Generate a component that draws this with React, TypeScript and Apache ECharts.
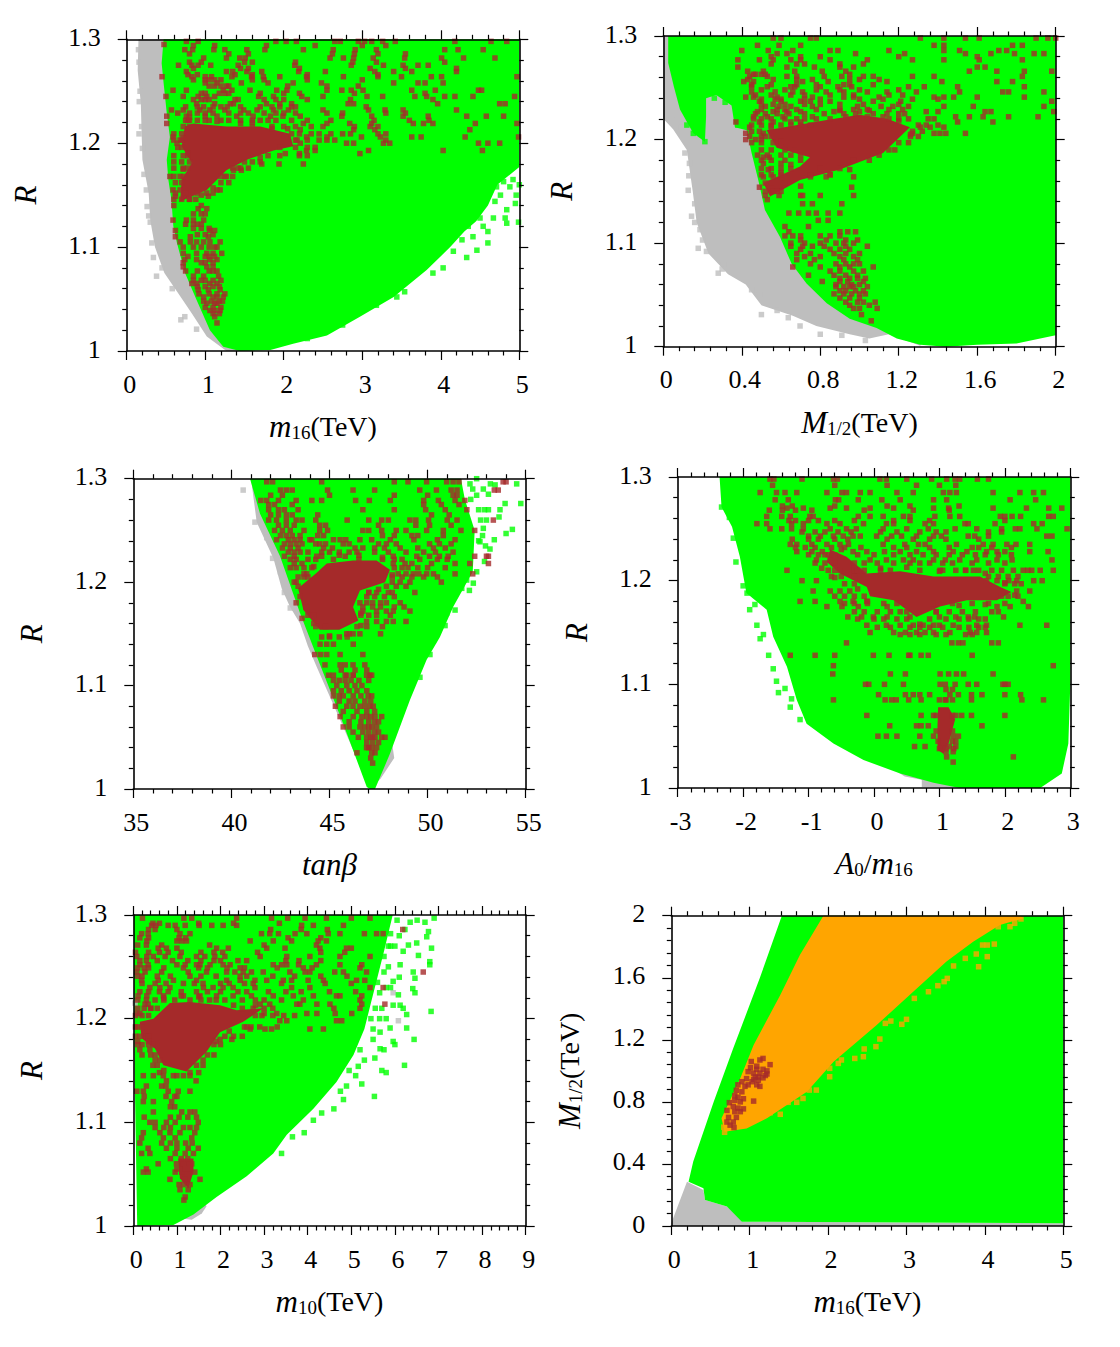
import React, { useEffect, useRef } from "react";
import * as echarts from "echarts";

type Pt = [number, number];
type Row = [number, number[]];

const GREY = "#bebebe";
const GREEN = "#00ff00";
const ORANGE = "#ffa500";
const BROWN = "#a52a2a";
const SERIF = "'Liberation Serif', serif";

// panel 1: m16 vs R
const p1Grey: Pt[] = [[0.15, 1.3], [0.14, 1.27], [0.18, 1.238], [0.19, 1.21], [0.2, 1.184], [0.28, 1.152], [0.3, 1.126], [0.36, 1.1], [0.48, 1.075], [0.66, 1.055], [0.83, 1.036], [1.02, 1.014], [1.27, 1.0], [1.6, 1.0], [1.0, 1.2], [0.7, 1.3]];
const p1Green: Pt[] = [[0.47, 1.3], [0.445, 1.277], [0.47, 1.258], [0.51, 1.229], [0.55, 1.206], [0.51, 1.184], [0.53, 1.165], [0.57, 1.145], [0.594, 1.12], [0.64, 1.104], [0.743, 1.075], [0.89, 1.049], [1.06, 1.02], [1.23, 1.004], [1.44, 1.0], [1.83, 1.001], [2.12, 1.007], [2.55, 1.015], [2.97, 1.033], [3.4, 1.052], [3.82, 1.078], [4.12, 1.1], [4.3, 1.115], [4.45, 1.125], [4.6, 1.14], [4.72, 1.16], [5, 1.177], [5, 1.3]];
const p1Core: Pt[] = [[0.85, 1.219], [1.27, 1.216], [1.7, 1.216], [2.08, 1.209], [2.12, 1.197], [1.87, 1.193], [1.53, 1.184], [1.27, 1.174], [1.02, 1.155], [0.68, 1.144], [0.7, 1.165], [0.83, 1.181], [0.7, 1.197], [0.74, 1.216]];
const p1GreyPts: Pt[] = [[0.157, 1.278], [0.157, 1.209], [0.19, 1.216], [0.26, 1.139], [0.3, 1.124], [0.32, 1.104], [0.38, 1.072], [0.69, 1.03], [0.74, 1.033], [0.89, 1.021], [0.15, 1.29], [0.17, 1.25], [0.16, 1.24], [0.2, 1.195], [0.22, 1.17], [0.25, 1.155], [0.28, 1.13], [0.34, 1.09], [0.45, 1.08], [0.58, 1.06]];
const p1GreenPts: Pt[] = [[4.33, 1.09], [4.46, 1.097], [4.6, 1.104], [4.16, 1.096], [4.03, 1.08], [3.9, 1.075], [3.54, 1.057], [3.44, 1.052], [4.84, 1.123], [4.99, 1.124], [4.67, 1.128], [4.82, 1.128], [4.6, 1.115], [4.95, 1.142], [4.69, 1.144], [4.84, 1.136], [4.71, 1.158], [4.88, 1.158], [4.54, 1.12], [4.41, 1.11], [4.27, 1.107], [4.18, 1.113], [4.5, 1.128], [4.35, 1.12], [4.28, 1.135], [4.76, 1.15], [4.22, 1.125], [2.3, 1.012], [2.75, 1.025], [3.18, 1.044], [4.92, 1.165], [4.8, 1.163], [5, 1.16], [4.96, 1.15]];
const p1Fringe: Pt[] = [[0.78, 1.222], [1.0, 1.222], [1.15, 1.221], [1.45, 1.219], [1.6, 1.22], [1.85, 1.214], [2.05, 1.214], [2.17, 1.203], [2.02, 1.19], [1.7, 1.186], [1.42, 1.176], [1.2, 1.168], [1.1, 1.157], [0.95, 1.15], [0.8, 1.146], [0.68, 1.155], [0.72, 1.175], [0.78, 1.19], [0.72, 1.205], [0.8, 1.225]];
const p1Brown: Row[] = [
  [1.298, [0.76, 0.91, 1.9, 2.03, 2.16, 2.65, 2.72, 2.95, 3.03, 3.12, 3.26, 3.42, 4.18, 4.64, 4.84]],
  [1.295, [0.475]],
  [1.29, [0.74, 0.84, 1.11, 1.25, 1.53, 1.76, 2.25, 2.63, 2.91, 3.18, 4.22, 4.54, 4.05]],
  [1.282, [0.98, 1.27, 1.44, 1.51, 2.59, 2.76, 2.89, 3.14, 3.54, 4.01, 4.29, 4.69]],
  [1.275, [0.66, 0.83, 0.91, 1.07, 1.42, 2.14, 2.86, 3.27, 3.52, 3.71, 3.84]],
  [1.269, [0.76, 1.27, 1.35, 1.53, 1.72, 2.19, 2.53, 3.16, 3.4, 3.63, 4.2]],
  [1.264, [0.45, 0.83, 1.0, 1.08, 1.34, 1.59, 1.74, 1.95, 2.29, 2.76, 3.2, 3.5, 3.88, 4.01, 4.97]],
  [1.258, [1.0, 1.15, 1.46, 1.8, 2.12, 2.48, 3.4, 3.71, 3.8, 4.03]],
  [1.251, [0.59, 0.76, 1.23, 1.34, 1.57, 1.91, 2.04, 2.55, 2.74, 2.86, 3.01, 3.63, 3.93, 4.48, 4.52]],
  [1.245, [0.5, 0.72, 0.91, 1.02, 1.12, 1.68, 1.87, 2.23, 2.5, 3.06, 3.26, 3.67, 3.82, 4.05, 4.18, 4.41, 4.94]],
  [1.238, [0.89, 1.12, 1.32, 1.36, 1.78, 1.95, 2.1, 2.82, 2.89, 3.96, 4.75, 4.82]],
  [1.232, [0.57, 0.72, 0.93, 1.06, 1.25, 1.49, 1.66, 1.87, 2.06, 2.5, 3.08, 3.29, 4.2, 3.52]],
  [1.226, [0.51, 0.76, 1.0, 1.15, 1.4, 1.61, 1.83, 1.99, 2.21, 2.74, 3.12, 3.52, 3.84, 4.33, 4.58, 4.8]],
  [1.219, [0.51, 2.25, 2.55, 2.84, 3.12, 3.65, 3.78, 3.9, 4.44, 4.97]],
  [1.213, [2.89, 3.16, 4.37, 2.21]],
  [1.206, [0.59, 2.29, 2.55, 2.99, 3.23, 3.63, 3.75, 4.31, 4.99]],
  [1.2, [0.64, 2.21, 2.8, 2.89, 3.27, 3.35, 4.48, 4.6, 4.75]],
  [1.193, [3.08, 4.03, 2.29, 2.4, 4.53]],
  [1.19, [2.97, 2.2]],
  [1.18, [2.25, 1.94, 1.72]],
  [1.174, [1.46, 1.36]],
  [1.168, [0.55, 0.68, 1.27]],
  [1.155, [0.59, 1.19, 1.15]],
  [1.149, [1.04, 0.62]],
  [1.137, [0.91, 1.02]],
  [1.126, [0.59, 0.76, 0.85, 0.98]],
  [1.116, [0.62, 1.06, 1.12]],
  [1.11, [0.62, 0.81, 1.04]],
  [1.105, [0.68, 0.81, 0.89, 0.98, 1.06, 1.19]],
  [1.094, [1.02, 1.1, 1.21, 0.72, 0.89]],
  [1.088, [0.74, 0.89, 1.06, 1.15]],
  [1.081, [0.72, 1.02, 1.1]],
  [1.072, [0.85, 0.98, 1.17]],
  [1.065, [0.83, 0.89, 1.06, 1.15]],
  [1.059, [0.91, 1.04, 1.19]],
  [1.052, [0.98, 1.1, 1.23, 1.15]],
  [1.046, [1.02, 1.15, 1.12]],
  [1.039, [1.06, 1.19, 1.12]],
  [1.033, [1.12]],
  [1.027, [1.15]],
];
const p1BrownB: Row[] = [
  [1.294, [0.85, 1.12, 1.78, 2.4, 3.0, 3.3]],
  [1.286, [0.8, 1.3, 1.55, 2.62, 2.9, 3.2, 3.55]],
  [1.278, [0.8, 0.95, 1.5, 1.6, 2.15, 2.88, 3.18, 4.05]],
  [1.272, [0.85, 1.45, 1.55, 2.2, 3.1, 3.55, 4.2]],
  [1.266, [0.78, 0.9, 1.38, 1.6, 2.3, 3.2]],
  [1.261, [0.85, 1.0, 1.05, 1.12, 1.2, 1.6, 1.75, 2.3, 3.0]],
  [1.255, [1.05, 1.12, 1.2, 1.27, 1.3, 2.05, 2.55, 2.95]],
  [1.248, [0.95, 1.0, 1.18, 1.25, 1.3, 1.7, 2.0, 2.2, 2.9, 3.8]],
  [1.242, [0.85, 0.95, 1.0, 1.05, 1.38, 1.42, 1.75, 1.9, 2.0, 2.3, 2.85, 3.9]],
  [1.235, [0.75, 0.9, 0.98, 1.1, 1.2, 1.28, 1.45, 1.7, 1.85, 1.95, 2.1, 2.15, 3.05]],
  [1.229, [0.65, 0.8, 0.9, 1.0, 1.1, 1.3, 1.45, 1.55, 1.75, 1.9, 2.0, 2.15, 2.55, 2.75, 3.3, 3.55]],
  [1.222, [0.75, 0.8, 0.9, 1.05, 1.2, 1.3, 1.45, 1.6, 1.7, 1.8, 1.9, 2.1, 2.3, 2.6, 3.15, 3.6, 3.85]],
  [1.216, [0.72, 0.8, 1.6, 1.85, 2.0, 2.15, 2.35, 2.5, 2.9, 3.1, 3.2]],
  [1.209, [0.6, 0.7, 2.1, 2.2, 2.35, 2.45, 2.6, 2.75, 2.85, 3.2, 3.3]],
  [1.203, [0.6, 0.68, 0.7, 2.15, 2.3, 2.45, 2.55, 2.65, 3.3]],
  [1.196, [0.65, 0.7, 2.15, 2.3, 2.4, 1.95]],
  [1.188, [0.6, 0.72, 0.78, 1.8, 1.95, 2.2, 2.3]],
  [1.182, [0.6, 0.7, 0.8, 1.5, 1.6, 1.7]],
  [1.176, [0.6, 0.72, 0.78, 1.35, 1.45, 1.55]],
  [1.168, [0.6, 0.72, 1.25, 1.35]],
  [1.162, [0.62, 0.7, 1.2, 1.3]],
  [1.152, [0.62, 0.75, 0.9, 1.02, 1.1]],
  [1.146, [0.6, 0.7, 0.8, 0.88]],
  [1.14, [0.95, 0.6]],
  [1.132, [0.85, 0.95, 1.0]],
  [1.122, [0.75, 0.85, 0.9, 0.95]],
  [1.118, [0.85, 0.95, 1.05]],
  [1.112, [1.1, 0.9, 1.0]],
  [1.1, [0.72, 0.85, 0.95, 1.05, 1.12, 1.15]],
  [1.091, [1.0, 1.05, 1.12, 0.78]],
  [1.085, [0.95, 1.0, 1.1, 0.72]],
  [1.077, [0.75, 0.9, 1.05, 1.1, 1.15]],
  [1.068, [0.85, 0.95, 1.0, 1.1, 1.2]],
  [1.062, [0.9, 1.0, 1.1, 1.18]],
  [1.055, [0.92, 1.05, 1.15, 1.25]],
  [1.048, [0.98, 1.08, 1.18, 1.22]],
  [1.042, [1.0, 1.1, 1.2]],
  [1.036, [1.1, 1.18]],
];

// panel 2: M1/2 vs R
const p2Grey: Pt[] = [[0, 1.3], [0, 1.22], [0.05, 1.21], [0.12, 1.19], [0.15, 1.15], [0.17, 1.12], [0.23, 1.09], [0.33, 1.07], [0.42, 1.06], [0.5, 1.04], [0.66, 1.03], [0.78, 1.02], [0.95, 1.012], [1.05, 1.008], [1.15, 1.012], [1.31, 1.001], [1.5, 1.1], [0.6, 1.3]];
const p2Green: Pt[] = [[0.025, 1.3], [0.025, 1.274], [0.054, 1.251], [0.085, 1.229], [0.153, 1.206], [0.212, 1.198], [0.218, 1.222], [0.218, 1.24], [0.27, 1.243], [0.348, 1.233], [0.365, 1.212], [0.425, 1.209], [0.45, 1.187], [0.484, 1.161], [0.518, 1.132], [0.595, 1.106], [0.654, 1.08], [0.73, 1.061], [0.833, 1.042], [0.95, 1.027], [1.087, 1.018], [1.19, 1.008], [1.31, 1.002], [1.44, 1.0], [1.6, 1.002], [1.8, 1.003], [2, 1.011], [2, 1.3]];
const p2Core: Pt[] = [[0.527, 1.209], [0.833, 1.219], [1.0, 1.224], [1.14, 1.22], [1.257, 1.212], [1.12, 1.187], [0.9, 1.171], [0.697, 1.161], [0.544, 1.145], [0.51, 1.158], [0.697, 1.174], [0.747, 1.183], [0.578, 1.192]];
const p2GreyPts: Pt[] = [[0.11, 1.187], [0.133, 1.177], [0.127, 1.151], [0.16, 1.138], [0.144, 1.126], [0.187, 1.113], [0.2, 1.103], [0.178, 1.095], [0.22, 1.092], [0.306, 1.08], [0.28, 1.071], [0.38, 1.071], [0.49, 1.05], [0.5, 1.031], [0.637, 1.028], [0.697, 1.02], [0.91, 1.011], [1.03, 1.006], [0.042, 1.224], [0.093, 1.212], [0.13, 1.165], [0.16, 1.12], [0.3, 1.075], [0.45, 1.055], [0.58, 1.035], [0.8, 1.012]];
const p2GreenPts: Pt[] = [[0.12, 1.214], [0.153, 1.206], [0.212, 1.198], [0.26, 1.24], [0.315, 1.236], [0.38, 1.214], [0.13, 1.222], [0.165, 1.215]];
const p2Fringe: Pt[] = [[0.55, 1.213], [0.7, 1.217], [0.9, 1.228], [1.05, 1.228], [1.2, 1.218], [1.26, 1.205], [1.18, 1.19], [1.05, 1.18], [0.85, 1.166], [0.7, 1.155], [0.58, 1.15], [0.53, 1.142], [0.6, 1.168], [0.65, 1.176], [0.7, 1.185], [0.6, 1.198], [0.5, 1.2], [0.55, 1.208]];
const p2Brown: Row[] = [
  [1.298, [0.56, 0.6, 0.75, 0.78, 1.31, 1.43, 1.54, 1.61, 1.9, 1.96, 2.0]],
  [1.291, [0.48, 0.59, 0.7, 1.38, 1.78, 1.83, 1.43]],
  [1.286, [0.4, 0.535, 0.66, 0.85, 0.89, 1.15, 1.51, 1.71, 1.75, 1.43]],
  [1.283, [0.58, 0.63, 0.98, 1.23, 1.54, 1.79, 1.89, 1.94, 1.67]],
  [1.277, [0.38, 0.49, 0.56, 0.65, 0.7, 0.85, 1.04, 1.27, 1.43, 1.61, 1.83]],
  [1.27, [0.38, 0.63, 0.77, 0.9, 0.97, 1.6, 1.64]],
  [1.266, [0.43, 0.51, 0.67, 0.81, 0.93, 1.56, 1.7, 1.84, 1.98]],
  [1.261, [0.44, 0.53, 0.63, 0.68, 0.82, 0.91, 1.02, 1.07, 1.27, 1.38, 1.83]],
  [1.256, [0.41, 0.46, 0.71, 0.84, 1.14, 1.42, 1.78, 1.7]],
  [1.251, [0.45, 0.53, 0.65, 0.67, 0.8, 0.89, 0.96, 1.25, 1.33, 1.5, 1.84]],
  [1.246, [0.45, 0.57, 0.66, 0.71, 0.83, 0.92, 1.04, 1.14, 1.29, 1.51, 1.73, 1.76, 1.94]],
  [1.241, [0.42, 0.46, 0.58, 0.76, 0.92, 0.97, 1.1, 1.38, 1.43, 1.48, 1.6, 1.84]],
  [1.237, [0.49, 0.6, 0.7, 0.75, 0.85, 1.07, 1.21, 1.98]],
  [1.232, [0.52, 0.59, 0.65, 0.76, 0.99, 1.11, 1.17, 1.25, 1.43, 1.58, 1.94]],
  [1.227, [0.48, 0.56, 0.63, 0.7, 0.87, 1.0, 1.34, 1.64, 1.67, 1.4, 1.99]],
  [1.222, [0.46, 0.53, 0.61, 0.76, 0.93, 1.04, 1.12, 1.49, 1.56, 1.76, 1.63, 1.91]],
  [1.217, [0.37, 0.49, 0.56, 0.65, 1.68, 1.5]],
  [1.212, [0.44, 1.31, 1.36, 1.43]],
  [1.206, [0.42, 0.51, 1.38, 1.41, 1.44, 1.54, 1.27]],
  [1.2, [0.42, 0.47]],
  [1.183, [0.51, 0.54]],
  [1.177, [0.51, 0.6]],
  [1.171, [0.535, 0.95]],
  [1.164, [0.51, 0.56, 0.83, 0.75, 0.97]],
  [1.154, [0.49, 0.96]],
  [1.146, [0.52, 0.59, 0.7, 0.71, 0.8, 0.97]],
  [1.138, [0.71, 0.76, 0.91]],
  [1.129, [0.64, 0.69, 0.74, 0.78, 0.84, 0.9]],
  [1.122, [0.79, 0.84]],
  [1.116, [0.62, 0.74]],
  [1.111, [0.64, 0.9, 0.94, 0.98]],
  [1.103, [0.7, 0.83, 0.93, 0.99]],
  [1.097, [0.65, 0.71, 0.76, 0.82, 0.93, 1.04]],
  [1.09, [0.68, 0.75, 0.87, 0.93, 1.0]],
  [1.084, [0.68, 0.77, 0.92, 0.99]],
  [1.077, [0.66, 0.8, 0.9, 0.95, 1.07]],
  [1.069, [0.74, 0.87, 0.93, 0.99]],
  [1.063, [0.81, 0.9, 0.94, 1.02]],
  [1.058, [0.88, 0.97, 1.04, 0.92, 0.95]],
  [1.051, [0.87, 0.92, 1.0, 0.96, 1.03]],
  [1.043, [0.93, 0.99, 1.02, 1.08]],
  [1.037, [0.97, 1.09, 1.0]],
  [1.031, [1.01]],
  [1.025, [1.06]],
];
const p2BrownB: Row[] = [
  [1.28, [0.55, 0.7, 0.8, 1.2, 1.6]],
  [1.273, [0.55, 0.68, 0.72, 0.9, 1.02]],
  [1.263, [0.46, 0.47, 0.5, 0.52, 0.95]],
  [1.258, [0.43, 0.56, 0.68, 0.76, 0.95, 1.0, 1.1]],
  [1.253, [0.45, 0.55, 0.68, 0.78, 0.92, 0.95, 1.07]],
  [1.248, [0.5, 0.62, 0.78, 0.9, 1.0, 1.2]],
  [1.243, [0.47, 0.55, 0.65, 0.72, 0.85, 0.97, 1.15, 1.22]],
  [1.239, [0.5, 0.57, 0.6, 0.72, 0.8, 1.0, 1.12, 1.27, 1.4]],
  [1.234, [0.5, 0.56, 0.62, 0.72, 0.8, 0.9, 1.02, 1.2]],
  [1.229, [0.5, 0.58, 0.62, 0.68, 0.78, 0.9, 0.97, 1.04, 1.15, 1.22]],
  [1.225, [0.47, 0.52, 0.58, 0.64, 0.72, 0.82, 0.92, 0.98, 1.07, 1.14, 1.2, 1.23]],
  [1.22, [0.46, 0.5, 0.55, 0.62, 0.68, 0.72, 0.78, 0.85, 1.15, 1.2, 1.25, 1.35, 1.38]],
  [1.214, [0.45, 0.5, 0.55, 0.6, 0.65, 0.7, 0.75, 1.3, 1.34, 1.4]],
  [1.208, [0.45, 0.49, 1.27, 1.32]],
  [1.203, [0.44, 0.5, 0.52, 0.55, 1.26, 1.3]],
  [1.197, [0.45, 0.5, 0.56, 1.2, 1.25]],
  [1.19, [0.5, 0.55, 0.62, 1.15, 0.67]],
  [1.185, [0.48, 0.53, 0.6, 0.65, 1.1]],
  [1.18, [0.5, 0.55, 0.62, 0.7, 0.97]],
  [1.172, [0.5, 0.55, 0.6, 0.65, 0.8, 0.9]],
  [1.166, [0.5, 0.55, 0.6, 0.75, 0.85]],
  [1.158, [0.52, 0.55, 0.62]],
  [1.15, [0.52, 0.56, 0.6]],
  [1.107, [0.62, 0.66, 0.7, 0.8, 0.9, 0.85]],
  [1.1, [0.65, 0.72, 0.8, 0.88, 0.92, 0.97]],
  [1.094, [0.7, 0.85, 0.9, 0.95]],
  [1.087, [0.72, 0.8, 0.9, 0.97]],
  [1.08, [0.75, 0.88, 0.93, 0.97, 1.0]],
  [1.073, [0.85, 0.9, 0.97, 1.02]],
  [1.066, [0.9, 0.95, 0.99, 1.03]],
  [1.06, [0.88, 0.96, 1.0]],
  [1.054, [0.9, 0.93, 0.98, 1.02]],
  [1.047, [0.9, 0.95, 1.0]],
  [1.04, [0.95, 1.05]],
];

// panel 3: tan beta vs R
const p3Grey: Pt[] = [[41.0, 1.3], [41.29, 1.258], [42.14, 1.223], [42.56, 1.194], [42.99, 1.176], [43.5, 1.16], [43.9, 1.138], [44.35, 1.118], [45.7, 1.06], [47.06, 1.0], [47.6, 1.01], [48.3, 1.03], [47, 1.2]];
const p3Green: Pt[] = [[40.95, 1.3], [41.46, 1.266], [42.48, 1.225], [43.5, 1.17], [44.5, 1.121], [45.7, 1.063], [46.9, 1.002], [47.06, 1.0], [47.32, 1.0], [48.08, 1.034], [49.1, 1.086], [49.95, 1.125], [50.63, 1.147], [51.3, 1.176], [52.3, 1.21], [52.4, 1.25], [51.9, 1.28], [51.7, 1.3]];
const p3Core: Pt[] = [[44.35, 1.209], [44.86, 1.218], [46.2, 1.221], [47.4, 1.221], [48.08, 1.212], [47.83, 1.2], [46.55, 1.192], [46.2, 1.176], [46.47, 1.163], [45.5, 1.154], [44.5, 1.154], [43.67, 1.173], [43.4, 1.194]];
const p3GreyPts: Pt[] = [[40.6, 1.289], [41.2, 1.258], [41.8, 1.243], [42.1, 1.223], [42.5, 1.21], [42.7, 1.19], [43, 1.175]];
const p3GreenPts: Pt[] = [[54.54, 1.295], [54.75, 1.276], [54.32, 1.251], [54.0, 1.247], [53.4, 1.241], [53.64, 1.263], [53.69, 1.27], [53.95, 1.276], [52.84, 1.252], [53.18, 1.232], [52.33, 1.199], [52.13, 1.192], [51.4, 1.173], [50.89, 1.158], [51.74, 1.194], [49.61, 1.108], [53.44, 1.294], [52.16, 1.295], [52.5, 1.284], [53.1, 1.27], [52.67, 1.239], [51.9, 1.232], [51.65, 1.195], [51.99, 1.202], [50.12, 1.13], [50.29, 1.143], [52.84, 1.29], [53.1, 1.285], [53.0, 1.26], [52.9, 1.22], [52.5, 1.21], [50.97, 1.17], [52.7, 1.26], [52.9, 1.27], [52.3, 1.29], [52.5, 1.3], [52.6, 1.24], [52.8, 1.245], [52.2, 1.28], [52.6, 1.27], [53.2, 1.295], [52.95, 1.235]];
const p3Fringe: Pt[] = [[44.2, 1.215], [44.6, 1.225], [45.5, 1.226], [46.5, 1.226], [47.7, 1.224], [48.2, 1.207], [47.5, 1.193], [46.9, 1.186], [46.6, 1.17], [46.6, 1.158], [46, 1.15], [45, 1.148], [44.2, 1.16], [43.6, 1.165], [43.3, 1.18], [43.2, 1.2], [43.7, 1.208], [47, 1.19]];
const p3Brown: Row[] = [
  [1.297, [41.8, 42.1, 44.6, 48.3, 49.0, 49.95, 50.97, 51.3, 51.6, 54.0, 53.85]],
  [1.289, [42.5, 42.8, 43.1, 44.9, 46.2, 47.3, 49.6, 50.45, 51.2, 51.5, 53.4, 53.6]],
  [1.279, [41.8, 41.5, 42.4, 43.3, 44.1, 44.6, 46.33, 47.03, 48.1, 49.8, 50.55, 51.4, 51.9]],
  [1.27, [41.9, 42.4, 42.7, 43.4, 46.7, 48.3, 49.9, 50.9, 52]],
  [1.26, [41.9, 42.3, 42.8, 43.3, 43.6, 44.3, 45.9, 47, 47.66, 48, 49.1, 49.4, 50.05, 51, 51.5, 53.35]],
  [1.25, [42.2, 42.6, 43, 43.7, 44.5, 44.9, 46.7, 47, 47.66, 48.4, 48.9, 49.95, 50.8, 51.7, 52.4]],
  [1.241, [42.3, 42.9, 43.2, 43.5, 44.0, 44.1, 45.2, 45.54, 45.83, 46.55, 47.15, 48.1, 49.3, 50.5, 51.4]],
  [1.233, [42.6, 43.0, 43.4, 44.7, 45.15, 46.3, 46.7, 47.3, 47.8, 48.6, 49.5, 50.3, 50.9]],
  [1.225, [42.7, 43.2, 44.35, 45.8, 48.25, 49.45, 50.1, 50.6, 51.05, 52.4, 53.1, 53]],
  [1.218, [43.2, 43.6, 48.25, 48.85, 49.2, 50.2, 51.4, 52.15, 53.1]],
  [1.208, [43.84, 49.27, 50.3, 49.55, 49.95, 51.4, 52.3, 48.5, 48.9]],
  [1.2, [49.1, 48.6, 50.7, 43.3, 48.2]],
  [1.19, [48.2, 49.35, 48.0, 47.4, 47.0]],
  [1.18, [46.55, 47.2, 47.9, 48.6, 47.6, 46.9]],
  [1.172, [47.4, 48.25, 49.1, 47.9, 46.7]],
  [1.162, [47.4, 47.9, 48.25, 46.89, 48.9]],
  [1.15, [46.55, 47.6, 45.88, 46.2]],
  [1.14, [44.52, 44.86, 45.2, 46.21]],
  [1.13, [46.7, 45.54, 44.25, 44.55, 44.86]],
  [1.12, [45.54, 45.8, 46.2, 46.8, 44.77]],
  [1.11, [45.88, 46.21, 46.89, 47.06, 44.95, 45.2, 45.8, 46.21, 47.15]],
  [1.1, [45.37, 45.88, 46.3, 46.65]],
  [1.09, [45.2, 45.7, 46.21, 46.97, 47.15, 45.5, 46.6]],
  [1.08, [45.3, 45.88, 46.55, 47.06, 47.23, 46.2, 46.8]],
  [1.07, [45.54, 46.21, 46.65, 47.32, 47.66, 46.9, 47.1]],
  [1.06, [45.7, 46.0, 46.55, 47.15, 47.4, 46.8, 47.0]],
  [1.05, [46.47, 46.89, 47.32, 47.66, 47.83, 47.1, 47.2]],
  [1.04, [46.89, 47.15, 47.4, 47.0]],
  [1.035, [47.32, 46.4, 47.15]],
  [1.03, [47.1]],
  [1.025, [47.2]],
];
const p3BrownB: Row[] = [
  [1.284, [42, 42.6, 45, 48.3, 50, 51.3, 51.5]],
  [1.275, [41.9, 42.2, 43.1, 49.8, 50.7, 51.6]],
  [1.265, [42, 42.4, 42.8, 43.1, 44.4, 50.2, 51.1]],
  [1.255, [42.4, 42.8, 43.2, 44.5, 44.8, 47.5, 49.4, 50.1, 51.2]],
  [1.245, [42.5, 42.8, 43.1, 43.5, 44.4, 44.7, 47.7, 48.3, 49.2, 49.5, 50.8]],
  [1.237, [42.7, 43, 43.3, 43.6, 44.3, 44.5, 44.8, 45.7, 46, 47.5, 47.9, 48.4, 50.1, 50.6, 51.2]],
  [1.229, [42.9, 43.2, 43.5, 43.9, 44.6, 45, 45.5, 46, 46.4, 47.3, 48, 48.9, 49.8, 50.4, 51.3]],
  [1.222, [43, 43.3, 43.9, 44.3, 45.2, 46.5, 47.7, 48.3, 48.7, 49.6, 50.5, 51]],
  [1.214, [43, 43.3, 43.7, 44.1, 48.3, 48.7, 49, 49.5, 50, 50.9]],
  [1.205, [43.4, 43.7, 43.9, 48.2, 48.7, 49.2, 49.8, 50.5]],
  [1.196, [43.4, 47.9, 48.4, 48.9]],
  [1.186, [43.5, 47.3, 47.8, 48.3]],
  [1.176, [43.8, 46.7, 47.2, 47.6, 48.3, 48.8]],
  [1.168, [43.9, 44.2, 46.6, 47, 47.4, 48.1]],
  [1.157, [44.3, 44.8, 46.4, 46.9, 47.7]],
  [1.147, [44.6, 45, 45.5, 45.9]],
  [1.115, [45.6, 46.3, 46.9]],
  [1.105, [45.2, 45.5, 45.8, 46.1, 46.5, 47]],
  [1.095, [45.2, 45.6, 46, 46.4, 46.9]],
  [1.085, [45.5, 46, 46.3, 46.8, 47.1]],
  [1.075, [45.7, 46.4, 46.9, 47.3]],
  [1.065, [46, 46.6, 47, 47.3, 47.5]],
  [1.055, [46.2, 46.7, 47, 47.3, 47.5]],
  [1.045, [46.9, 47.2, 47.5]],
];

// panel 4: A0/m16 vs R
const p4Grey: Pt[] = [[0.35, 1.016], [0.47, 1.011], [0.73, 1.008], [0.73, 1.001], [1.31, 1.0], [1.0, 1.02]];
const p4Green: Pt[] = [[-2.36, 1.3], [-2.33, 1.271], [-2.17, 1.252], [-2.05, 1.223], [-1.95, 1.188], [-1.64, 1.172], [-1.54, 1.146], [-1.33, 1.117], [-1.18, 1.085], [-1.03, 1.062], [-0.62, 1.043], [-0.16, 1.027], [0.4, 1.014], [0.91, 1.005], [1.31, 1.0], [2.54, 1.0], [2.87, 1.014], [2.97, 1.043], [3, 1.1], [3, 1.3]];
const p4Core: Pt[] = [[-0.67, 1.23], [-0.42, 1.223], [-0.11, 1.207], [0.4, 1.209], [0.91, 1.204], [1.62, 1.204], [1.93, 1.194], [2.1, 1.189], [1.88, 1.181], [1.42, 1.181], [1.01, 1.175], [0.65, 1.165], [0.3, 1.181], [-0.06, 1.185], [-0.11, 1.194], [-0.52, 1.207], [-0.72, 1.218]];
const p4Strand: Pt[] = [[0.98, 1.078], [1.14, 1.078], [1.24, 1.066], [1.14, 1.043], [1.06, 1.033], [0.97, 1.037], [0.97, 1.059]];
const p4GreenPts: Pt[] = [[-2.33, 1.271], [-2.29, 1.283], [-2.21, 1.261], [-2.15, 1.241], [-2.11, 1.218], [-2, 1.195], [-1.94, 1.188], [-1.9, 1.172], [-1.82, 1.177], [-1.79, 1.157], [-1.69, 1.148], [-1.74, 1.144], [-1.61, 1.128], [-1.54, 1.115], [-1.49, 1.103], [-1.36, 1.096], [-1.46, 1.092], [-1.26, 1.086], [-1.28, 1.078], [-1.13, 1.066]];
const p4Fringe: Pt[] = [[-0.75, 1.225], [-0.5, 1.23], [-0.25, 1.21], [0.1, 1.212], [0.5, 1.213], [1.0, 1.209], [1.4, 1.21], [1.7, 1.207], [2.0, 1.198], [2.15, 1.186], [1.7, 1.177], [1.3, 1.176], [0.95, 1.17], [0.7, 1.158], [0.5, 1.17], [0.2, 1.175], [-0.1, 1.18], [-0.25, 1.192], [-0.6, 1.203], [-0.8, 1.212]];
const p4Brown: Row[] = [
  [1.298, [-1.59, -1.53, -1.1, -0.62, -0.56, 0.09, 0.19, 0.5, 0.88, 1.11, 1.24, 1.31, 1.58, 1.75]],
  [1.285, [-1.74, -1.49, -1.36, -1.18, -0.72, -0.49, -0.42, -0.21, -0.06, 0.35, 0.6, 1.06, 1.16, 1.26, 1.82, 2.23, 2.44, 2.59]],
  [1.278, [-1.51, -1.31, -0.59, -0.54, -0.24, 0.12, 0.4, 0.91, 1.11, 2.08, 2.47]],
  [1.27, [-1.33, -1.08, -0.67, -0.42, -0.06, 0.3, 0.91, 1.14, 2.33, 2.67, 2.87, 1.82]],
  [1.262, [-1.64, -1.41, -1.28, -0.98, -0.93, -0.24, -0.06, 0.14, 0.45, 0.55, 0.93, 1.16, 1.31, 1.93, 2.0, 2.11, 2.24, 2.67, 2.74]],
  [1.255, [-1.79, -1.64, -1.26, -1.08, -0.72, -0.52, -0.16, 0.19, 0.3, 0.78, 0.91, 1.39, 1.44, 1.85, 2.44, 2.57]],
  [1.25, [-1.59, -1.41, -1.26, -1.08, -0.67, -0.42, -0.27, 0.14, 0.5, 0.83, 1.24, 1.57, 1.95, 2.16, 2.23, 2.49, 2.95]],
  [1.243, [-1.0, -0.82, -0.62, -0.47, -0.32, -0.21, 0.04, 0.27, 0.42, 0.65, 0.91, 1.03, 1.44, 1.54, 1.75, 2.64, 2.72]],
  [1.235, [-1.28, -1.18, -0.95, -0.72, -0.52, -0.39, 0.14, 0.47, 0.68, 0.78, 1.26, 1.67, 1.82, 2.17, 2.03, 2.38]],
  [1.228, [-1.18, -0.95, -0.79, -0.32, -0.11, 0.16, 0.4, 0.65, 0.91, 1.21, 1.42, 1.72, 1.88, 2.0, 2.38, 2.66]],
  [1.22, [-0.88, -0.67, -0.06, 0.19, 0.45, 0.6, 0.91, 1.09, 1.31, 1.57, 1.88, 2.11, 2.72]],
  [1.21, [-1.33, -0.52, 0.1, 1.01, 1.52, 2.13, 2.28, 2.41, 2.54, 2.74]],
  [1.2, [-1.1, -0.88, 1.72, 1.88, 2.06, 2.18, 2.44, 2.57]],
  [1.19, [-0.93, -0.67, -0.52, -0.37, 2.18, 2.38]],
  [1.18, [-1.13, -0.9, -0.52, -0.32, 2.28, -0.11]],
  [1.175, [-0.72, -0.49, -0.24, 1.88, 2.08, 2.36]],
  [1.165, [-0.4, -0.19, -0.01, 1.44, 1.54, 1.98, 0.2, 0.55, 1.0, 1.25]],
  [1.157, [-0.11, 0.19, 0.4, 0.91, 1.21, 1.57, 1.72, 2.23, 2.64, 0.6, 0.75, 1.0]],
  [1.15, [-0.06, 0.3, 0.48, 0.65, 0.91, 1.16, 1.47, 1.57, 1.72, 0.78]],
  [1.14, [-0.42, 1.19, 1.29, 1.36, 1.8, 1.9]],
  [1.128, [-0.9, 0.55, 0.53, -1.28, -0.6, -0.01, 0.23, 1.5, 0.72, 0.83]],
  [1.118, [-0.62, 2.74]],
  [1.11, [-0.63, 0.25, 1.82, 1.01, 1.14, 1.26, 1.37, 0.48]],
  [1.1, [-0.13, -0.08, 0.45, 1.01, 1.09, 1.24, 1.57, 1.44, 1.97, 0.16, 2.05, 2.0]],
  [1.09, [0.07, 0.48, 0.6, 0.7, 0.85, 1.16, 1.29, 1.49, 1.65, 2.0, 2.24]],
  [1.085, [-0.62, 0.17, 0.27, 0.34, 0.53, 0.72, 1.09, 1.49, 2.26, 2.59]],
  [1.07, [-0.11, 0.72, 0.91, 1.34, 1.49, 2.0, 1.2]],
  [1.06, [0.24, 0.65, 0.72, 0.83, 1.65]],
  [1.05, [0.06, 0.19, 0.35, 0.7, 0.91, 1.29, 1.21]],
  [1.04, [0.62, 0.78, 1.15, 1.25]],
  [1.035, [1.21, 1.1]],
  [1.03, [2.13, 1.11]],
  [1.025, [1.21]],
];
const p4BrownB: Row[] = [
  [1.292, [-1.55, -0.6, 0.2, 0.65, 1.0, 1.25]],
  [1.272, [-1.4, -1.25, -0.6, 0.2, 0.55, 1.3]],
  [1.268, [-1.6, -1.4, -1.2, -0.95, -0.15, 0.6, 1.15]],
  [1.258, [-1.3, -1.2, -1.0, -0.85, -0.6, -0.3, 0.3, 0.55, 0.85, 2.0]],
  [1.247, [-1.1, -0.9, -0.75, -0.55, -0.35, 0.1, 0.35, 0.7, 0.95, 1.1, 1.75, 1.95]],
  [1.24, [-1.25, -1, -0.85, -0.6, -0.4, 0.2, 0.6, 0.85, 1.1, 1.6]],
  [1.232, [-1.2, -1.05, -0.9, -0.65, -0.45, -0.2, 0.3, 0.5, 0.85, 1.15, 1.5, 1.6, 1.8, 2.1]],
  [1.225, [-1.0, -0.85, -0.7, -0.6, -0.25, 0, 0.3, 0.55, 0.75, 0.95, 1.15, 1.35, 1.55, 1.7, 1.9, 2.1]],
  [1.217, [-0.9, -0.75, -0.6, -0.3, -0.15, 0.05, 0.3, 0.55, 0.7, 0.85, 1.05, 1.2, 1.5, 1.75, 2]],
  [1.21, [-0.7, -0.6, -0.3, -0.15, 0.25, 0.7, 1.05, 1.25, 1.4, 1.6, 1.8, 1.95, 2.35]],
  [1.204, [-0.65, -0.5, -0.3, 1.75, 1.9, 2.05, 2.2]],
  [1.197, [-0.45, -0.3, 2.0, 2.15, 2.25]],
  [1.185, [-0.6, -0.45, -0.3, -0.15, 1.95, 2.05, 2.2]],
  [1.178, [-0.45, -0.3, -0.1, 0.15, 0.35, 0.9, 1.2, 1.5, 1.75, 2]],
  [1.17, [-0.3, -0.15, 0.05, 0.25, 0.4, 0.95, 1.15, 1.35, 1.55, 1.8, 1.9]],
  [1.163, [-0.25, 0, 0.15, 0.35, 0.5, 0.85, 1.1, 1.3, 1.45, 1.6, 1.7]],
  [1.155, [0.05, 0.25, 0.55, 0.7, 0.85, 1.05, 1.3, 1.45, 1.6, 1.7]],
  [1.148, [0.4, 0.55, 0.7, 0.95, 1.1, 1.4, 1.5]],
  [1.095, [1.1, 1.2]],
  [1.085, [1.0, 1.1, 1.2]],
  [1.07, [0.95, 1.25]],
  [1.055, [0.95, 1.2]],
  [1.045, [0.98, 1.2, 1.25]],
  [1.038, [1.0, 1.1, 1.22]],
];

// panel 5: m10 vs R
const p5Grey: Pt[] = [[1.15, 1.007], [1.34, 1.006], [1.57, 1.012], [1.68, 1.019], [1.4, 1.04]];
const p5Green: Pt[] = [[0.01, 1.3], [0.03, 1.15], [0.09, 1.0], [0.92, 1.001], [1.38, 1.011], [1.91, 1.028], [2.6, 1.048], [3.21, 1.07], [3.52, 1.088], [4.13, 1.113], [4.66, 1.139], [5.05, 1.165], [5.3, 1.19], [5.45, 1.215], [5.6, 1.24], [5.75, 1.265], [5.95, 1.3]];
const p5Core: Pt[] = [[0.46, 1.2], [0.84, 1.215], [1.3, 1.216], [1.99, 1.213], [2.37, 1.208], [2.98, 1.21], [2.52, 1.197], [1.99, 1.187], [1.68, 1.168], [1.22, 1.149], [0.69, 1.155], [0.5, 1.171], [0.19, 1.181], [0.15, 1.197]];
const p5Strand: Pt[] = [[1.03, 1.065], [1.38, 1.065], [1.38, 1.052], [1.26, 1.036], [1.07, 1.046]];
const p5GreyPts: Pt[] = [[6.08, 1.198], [0.04, 1.215], [5.96, 1.225]];
const p5GreenPts: Pt[] = [[6.9, 1.297], [6.69, 1.293], [6.51, 1.295], [6.35, 1.293], [6.23, 1.286], [6.77, 1.284], [6.73, 1.279], [6.5, 1.273], [6.84, 1.268], [6.31, 1.271], [6.54, 1.261], [6.8, 1.255], [6.8, 1.252], [6.42, 1.245], [6.46, 1.239], [6.41, 1.229], [6.46, 1.225], [6.83, 1.207], [6.27, 1.204], [6.27, 1.191], [6.44, 1.18], [6, 1.175], [6.22, 1.155], [5.8, 1.148], [5.7, 1.15], [5.54, 1.162], [5.66, 1.171], [5.24, 1.137], [5.53, 1.125], [4.6, 1.113], [4.82, 1.122], [4.89, 1.135], [5.16, 1.154], [4.32, 1.109], [4.13, 1.102], [3.92, 1.09], [3.65, 1.086], [3.4, 1.07], [5.89, 1.191], [5.96, 1.178], [5.66, 1.187], [6.08, 1.223], [6.12, 1.213], [5.96, 1.213], [6.19, 1.21], [5.96, 1.236], [6.12, 1.252], [6.19, 1.265], [5.9, 1.282], [6.0, 1.27], [6.1, 1.24], [5.8, 1.2], [5.75, 1.17], [5.5, 1.18], [5.3, 1.16], [5.1, 1.145], [4.95, 1.15], [4.75, 1.13], [5.2, 1.17], [5.75, 1.26], [5.85, 1.25], [5.9, 1.27], [5.8, 1.23], [5.7, 1.21], [5.9, 1.23], [5.65, 1.2], [6.05, 1.295], [6.1, 1.28], [5.6, 1.235], [5.45, 1.2], [5.55, 1.21], [5.65, 1.225], [5.75, 1.245], [5.85, 1.27], [5.8, 1.285], [5.5, 1.19]];
const p5Fringe: Pt[] = [[0.15, 1.205], [0.4, 1.21], [0.7, 1.22], [1.1, 1.222], [1.5, 1.221], [1.9, 1.218], [2.3, 1.213], [2.8, 1.213], [3, 1.205], [2.6, 1.192], [2.2, 1.188], [1.9, 1.178], [1.6, 1.16], [1.3, 1.145], [1, 1.145], [0.7, 1.15], [0.5, 1.16], [0.35, 1.178], [0.1, 1.178]];
const p5Brown: Row[] = [
  [1.297, [0.21, 1.16, 1.34, 2.37, 3.17, 3.54, 3.94, 4.43, 5.0, 5.43]],
  [1.29, [0.42, 0.52, 0.8, 0.96, 1.19, 1.51, 1.8, 2.06, 2.37, 3.86, 4.13, 4.82]],
  [1.286, [6.18]],
  [1.282, [0.19, 0.34, 1.07, 1.3, 2.94, 3.13, 3.33, 3.71, 3.98, 4.47, 4.74, 5.3, 5.58, 5.73]],
  [1.275, [0.31, 1.0, 1.11, 1.22, 2.68, 3.21, 3.63, 4.24, 4.43]],
  [1.268, [0.57, 0.76, 1.0, 1.91, 2.18, 3.06, 3.48, 4.28, 5.0, 4.89]],
  [1.26, [0.08, 0.31, 0.46, 0.73, 1.07, 1.45, 1.64, 1.87, 2.1, 2.91, 3.52, 4.05, 4.74, 5.43]],
  [1.252, [0.15, 0.34, 1.0, 1.19, 1.45, 1.53, 1.76, 2.06, 2.22, 3.21, 3.4, 3.52, 3.79, 4.2, 4.74, 5.24]],
  [1.245, [0.08, 0.27, 0.65, 1.26, 1.68, 2.14, 2.33, 2.52, 2.71, 2.98, 3.59, 3.94, 4.05, 4.62, 4.82, 5.35, 6.65]],
  [1.237, [0.19, 0.57, 0.92, 1.45, 2.14, 2.45, 2.79, 3.06, 3.44, 3.63, 4.01, 4.36, 5.12, 5.31]],
  [1.23, [0.38, 0.61, 0.84, 1.61, 1.83, 2.06, 2.29, 2.79, 3.63, 4.05, 5.43, 5.73]],
  [1.222, [0.11, 0.31, 0.69, 1.15, 1.53, 1.91, 2.29, 2.71, 3.21, 3.67, 4.13, 4.66, 4.74, 5.24]],
  [1.214, [0.27, 0.34, 2.91, 3.13, 3.75, 3.82, 4.21, 4.51, 5.24, 5.77]],
  [1.205, [0.08, 3.29, 3.98, 4.21, 4.63, 5.01]],
  [1.198, [3.36, 3.52, 4.66, 4.78]],
  [1.19, [2.68, 3.02, 4.05, 4.36, 3.17]],
  [1.18, [1.99, 2.26]],
  [1.17, [0.15, 0.38]],
  [1.16, [0.61]],
  [1.145, [0.23, 0.46, 0.69, 0.92, 1.15]],
  [1.14, [0.76, 1.44]],
  [1.13, [0.08, 0.23, 0.8, 1.03, 1.3]],
  [1.12, [0.23, 0.46, 0.88]],
  [1.11, [0.46, 1.11, 1.3, 1.41]],
  [1.1, [0.38, 0.76, 0.96, 1.49, 0.5]],
  [1.09, [0.61, 0.84, 1.07, 1.41, 0.23]],
  [1.085, [0.19, 0.69, 0.96, 1.34]],
  [1.075, [0.34, 0.76, 1.0, 1.26, 1.49]],
  [1.07, [0.19, 0.38, 0.96, 1.19, 1.38]],
  [1.06, [0.57, 0.99, 1.15, 1.34]],
  [1.052, [0.23, 0.34, 0.96, 1.11, 1.41]],
  [1.045, [0.84, 1.19, 1.53]],
  [1.035, [1.07, 1.26]],
  [1.028, [1.19]],
  [1.025, [1.16]],
];
const p5BrownB: Row[] = [
  [1.292, [0.45, 0.6, 1.5, 2.3, 3.35]],
  [1.286, [0.35, 0.5, 1.0, 3.15, 3.85, 4.45]],
  [1.278, [0.15, 0.35, 1.05, 1.2, 3.55, 4.3]],
  [1.271, [0.1, 0.3, 0.65, 1.75, 3.0, 4.2]],
  [1.264, [0.05, 0.35, 0.6, 0.8, 1.1, 1.55, 1.85, 2.05, 2.85, 4.3, 4.85]],
  [1.256, [0.15, 0.3, 0.55, 0.9, 1.25, 1.55, 1.85, 2.0, 2.4, 2.6, 3.5, 3.8, 4.3]],
  [1.249, [0.1, 0.25, 0.35, 0.7, 1.15, 1.5, 1.7, 2.15, 2.45, 2.55, 3.3, 3.9, 4.1, 5.2]],
  [1.241, [0.1, 0.2, 0.55, 0.85, 1.3, 1.55, 1.9, 2.45, 2.6, 3.2, 3.7, 4.3, 4.9]],
  [1.234, [0.2, 0.5, 0.75, 1.15, 1.4, 1.6, 2.0, 2.2, 2.55, 2.75, 3.4, 4.4, 5.0]],
  [1.226, [0.15, 0.35, 0.6, 0.8, 1.1, 1.45, 1.7, 2.0, 2.4, 2.6, 3.1, 3.5, 3.85, 4.5, 5.1]],
  [1.218, [0.1, 0.3, 0.5, 0.7, 0.95, 1.3, 1.55, 1.75, 2.1, 2.5, 2.8, 3.0, 3.4, 3.9, 5.2]],
  [1.21, [0.1, 0.25, 0.4, 0.55, 2.5, 2.75, 3.0, 3.2, 4.6, 5.2]],
  [1.203, [0.05, 0.2, 0.35, 2.8, 2.95, 3.2, 3.45, 3.7]],
  [1.192, [0.05, 0.1, 0.2, 2.55, 2.7, 2.9, 3.3]],
  [1.183, [0.05, 0.15, 0.3, 0.35, 2.1, 2.3, 2.5]],
  [1.175, [0.1, 0.2, 0.35, 0.45, 1.85, 2.0]],
  [1.165, [0.2, 0.4, 0.5, 1.7, 1.85]],
  [1.155, [0.45, 0.55, 1.45, 1.6]],
  [1.148, [0.6, 1.3, 1.5]],
  [1.135, [0.3, 0.65, 0.75]],
  [1.125, [0.25, 0.75, 0.95, 1.0]],
  [1.115, [0.85, 0.95]],
  [1.105, [0.25, 0.85, 1.05, 1.25, 1.45]],
  [1.095, [0.5, 0.7, 0.85, 1.15, 1.3, 1.45]],
  [1.08, [0.15, 0.65, 0.85, 1.0, 1.2, 1.35]],
  [1.065, [0.85, 1.1, 1.25]],
  [1.055, [0.3, 1.0, 1.2, 1.3]],
  [1.04, [1.05, 1.15, 1.3]],
];

// panel 6: m16 vs M1/2
const p6Grey: Pt[] = [[0.2, 0.286], [0, 0.017], [0, 0], [5, 0], [5, 0.017], [0.9, 0.028], [0.88, 0.07], [0.71, 0.125], [0.43, 0.168], [0.41, 0.232]];
const p6Green: Pt[] = [[1.41, 2], [1.13, 1.6], [0.79, 1.145], [0.54, 0.8], [0.28, 0.415], [0.22, 0.286], [0.41, 0.243], [0.43, 0.168], [0.71, 0.125], [0.9, 0.028], [5, 0.017], [5, 2]];
const p6Orange: Pt[] = [[1.94, 2], [1.64, 1.747], [1.39, 1.489], [1.05, 1.167], [0.88, 0.952], [0.68, 0.737], [0.64, 0.694], [0.68, 0.608], [0.96, 0.629], [1.22, 0.694], [1.73, 0.866], [2.07, 1.059], [2.62, 1.295], [3.04, 1.489], [3.51, 1.704], [3.85, 1.832], [4.19, 1.94], [4.49, 1.983], [4.45, 2]];
const p6OrangePts: Pt[] = [[4.46, 1.979], [4.38, 1.983], [4.32, 1.929], [4.38, 1.951], [4.17, 1.929], [4.12, 1.817], [4.03, 1.811], [3.97, 1.811], [4.03, 1.736], [3.92, 1.671], [3.89, 1.753], [3.75, 1.725], [3.6, 1.676], [3.52, 1.596], [3.48, 1.575], [3.4, 1.549], [3.28, 1.51], [3.1, 1.467], [3.0, 1.332], [2.94, 1.3], [2.8, 1.321], [2.73, 1.306], [2.66, 1.205], [2.61, 1.156], [2.46, 1.141], [2.45, 1.091], [2.34, 1.08], [2.17, 1.07], [2.13, 1.048], [2.02, 1.016], [2.02, 0.962], [1.85, 0.876], [1.76, 0.876], [1.68, 0.822], [1.6, 0.797], [1.49, 0.797], [1.39, 0.72], [1.26, 0.73], [0.68, 0.604], [0.67, 0.637]];
const p6Brown: Pt[] = [[1.17, 1.08], [1.26, 1.04], [1.02, 1.06], [1.13, 1.07], [1.01, 1.02], [1.09, 1.01], [1.17, 1.01], [1.22, 1.0], [0.98, 0.995], [1.05, 0.985], [1.13, 0.985], [1.2, 0.97], [0.96, 0.95], [1.05, 0.945], [1.11, 0.94], [1.17, 0.955], [1.09, 0.91], [1.13, 0.9], [0.98, 0.91], [0.9, 0.93], [0.85, 0.91], [0.94, 0.9], [0.83, 0.875], [0.9, 0.865], [0.81, 0.84], [0.85, 0.83], [0.92, 0.82], [1.05, 0.805], [0.74, 0.795], [0.81, 0.81], [0.88, 0.8], [0.79, 0.77], [0.71, 0.745], [0.85, 0.76], [0.92, 0.755], [0.81, 0.737], [0.88, 0.737], [0.73, 0.7], [0.83, 0.7], [0.71, 0.67], [0.79, 0.67], [0.75, 0.65], [0.8, 0.635], [1.09, 1.03], [1.11, 0.96], [1.07, 0.96], [1.03, 0.93], [1.22, 0.98]];

const mTev = "{i|m}{s|16}{r|(TeV)}";
const mHalfTev = "{i|M}{s|1/2}{r|(TeV)}";

const flatten = (rows: Row[]): Pt[] => rows.flatMap(([y, xs]) => xs.map((x) => [x, y] as Pt));

const panels = [
  { left: 126.7, top: 39.3, width: 392.6, height: 311.7, x: [0, 5, 1], y: [1, 1.3, 0.1], xName: mTev, yName: "{i|R}", regions: [[p1Grey, GREY], [p1Green, GREEN], [p1Core, BROWN]], points: [[p1GreyPts, GREY], [p1GreenPts, GREEN], [[...flatten([...p1Brown, ...p1BrownB]), ...p1Fringe], BROWN]] },
  { left: 663.3, top: 36, width: 392.4, height: 310.7, x: [0, 2, 0.4], y: [1, 1.3, 0.1], xName: mHalfTev, yName: "{i|R}", regions: [[p2Grey, GREY], [p2Green, GREEN], [p2Core, BROWN]], points: [[p2GreyPts, GREY], [p2GreenPts, GREEN], [[...flatten([...p2Brown, ...p2BrownB]), ...p2Fringe], BROWN]] },
  { left: 133.3, top: 478.7, width: 392.4, height: 310.3, x: [35, 55, 5], y: [1, 1.3, 0.1], xName: "{i|tanβ}", yName: "{i|R}", regions: [[p3Grey, GREY], [p3Green, GREEN], [p3Core, BROWN]], points: [[p3GreyPts, GREY], [p3GreenPts, GREEN], [[...flatten([...p3Brown, ...p3BrownB]), ...p3Fringe], BROWN]] },
  { left: 677.7, top: 477, width: 392.6, height: 311, x: [-3, 3, 1], y: [1, 1.3, 0.1], xName: "{i|A}{s|0}{r|/}{i|m}{s|16}", yName: "{i|R}", regions: [[p4Grey, GREY], [p4Green, GREEN], [p4Core, BROWN], [p4Strand, BROWN]], points: [[p4GreenPts, GREEN], [[...flatten([...p4Brown, ...p4BrownB]), ...p4Fringe], BROWN]] },
  { left: 133.3, top: 915, width: 392.4, height: 311, x: [0, 9, 1], y: [1, 1.3, 0.1], xName: "{i|m}{s|10}{r|(TeV)}", yName: "{i|R}", regions: [[p5Grey, GREY], [p5Green, GREEN], [p5Core, BROWN], [p5Strand, BROWN]], points: [[p5GreyPts, GREY], [p5GreenPts, GREEN], [[...flatten([...p5Brown, ...p5BrownB]), ...p5Fringe], BROWN]] },
  { left: 671.3, top: 915.7, width: 392, height: 310.3, x: [0, 5, 1], y: [0, 2, 0.4], xName: mTev, yName: mHalfTev, regions: [[p6Grey, GREY], [p6Green, GREEN], [p6Orange, ORANGE]], points: [[p6OrangePts, ORANGE], [p6Brown, BROWN]] },
] as any[];

const nameStyle = {
  fontFamily: SERIF,
  color: "#000",
  rich: {
    i: { fontFamily: SERIF, fontStyle: "italic", fontSize: 31, color: "#000" },
    s: { fontFamily: SERIF, fontSize: 19, color: "#000", verticalAlign: "bottom", padding: [12, 0, 0, 0] },
    r: { fontFamily: SERIF, fontSize: 28, color: "#000" },
  },
};

function axis(gridIndex: number, range: number[], position: string, isMain: boolean, name: string, nameGap: number, margin: number, label: any) {
  return {
    type: "value",
    gridIndex,
    position,
    min: range[0],
    max: range[1],
    interval: range[2],
    z: 10,
    splitLine: { show: false },
    axisLine: { onZero: false, lineStyle: { color: "#000", width: 1.6 } },
    axisTick: { show: true, inside: false, length: 9, lineStyle: { color: "#000", width: 1.2 } },
    minorTick: { show: true, splitNumber: 5, length: 4.5, lineStyle: { color: "#000", width: 1.2 } },
    axisLabel: { show: isMain, fontFamily: SERIF, fontSize: 26, color: "#000", margin, ...label },
    name: isMain ? name : "",
    nameLocation: "middle",
    nameGap,
    nameTextStyle: nameStyle,
  };
}

const App: React.FC = () => {
  const chartRef = useRef<HTMLDivElement>(null);

  useEffect(() => {
    if (!chartRef.current) return;
    const chart = echarts.init(chartRef.current, undefined, { renderer: "svg" });

    const xAxis: any[] = [];
    const yAxis: any[] = [];
    const series: any[] = [];

    panels.forEach((p, i) => {
      xAxis.push(axis(i, p.x, "bottom", true, p.xName, 60, 20, { padding: [0, 0, 0, 6] }));
      xAxis.push(axis(i, p.x, "top", false, "", 0, 8, {}));
      // the tick labels sit a little above their ticks in the original
      yAxis.push(axis(i, p.y, "left", true, p.yName, 86, 26, { verticalAlign: "bottom", lineHeight: 4 }));
      yAxis.push(axis(i, p.y, "right", false, "", 0, 8, {}));
      const ax = { xAxisIndex: i * 2, yAxisIndex: i * 2 };
      p.regions.forEach(([outline, color]: [Pt[], string]) => {
        series.push({
          type: "custom",
          ...ax,
          silent: true,
          clip: false,
          data: [outline[0]],
          renderItem: (_: any, api: any) => ({
            type: "polygon",
            shape: { points: outline.map((pt) => api.coord(pt)) },
            style: { fill: color },
          }),
        });
      });
      p.points.forEach(([pts, color]: [Pt[], string]) => {
        series.push({
          type: "scatter",
          ...ax,
          silent: true,
          clip: false,
          symbol: "rect",
          symbolSize: 5.5,
          itemStyle: { color },
          data: pts,
        });
      });
    });

    chart.setOption({
      animation: false,
      grid: panels.map((p) => ({ left: p.left, top: p.top, width: p.width, height: p.height, containLabel: false })),
      xAxis,
      yAxis,
      series,
    });

    return () => chart.dispose();
  }, []);

  return <div ref={chartRef} style={{ position: "absolute", left: 0, top: 0, width: 1120, height: 1347 }} />;
};

export default App;
